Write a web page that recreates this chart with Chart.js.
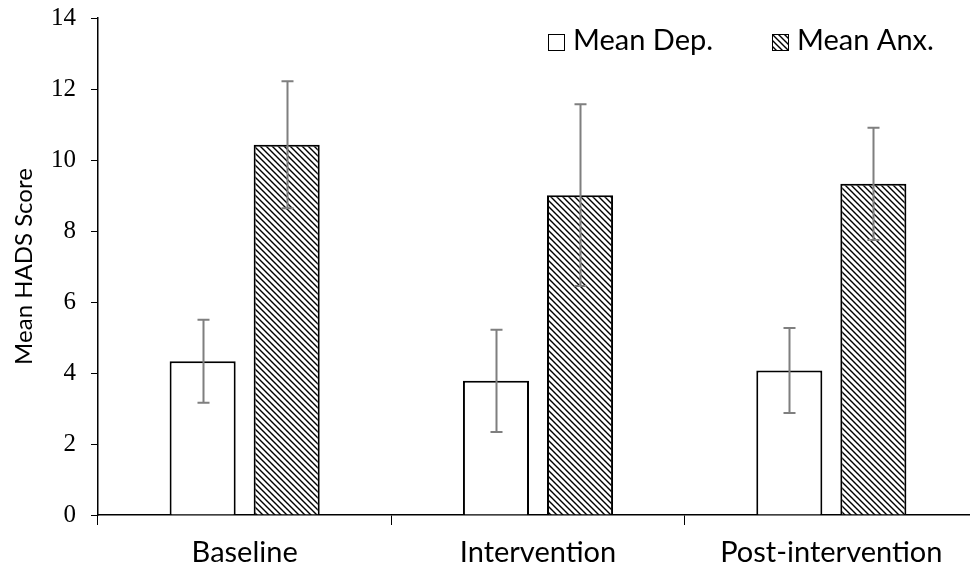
<!DOCTYPE html>
<html>
<head>
<meta charset="utf-8">
<script src="https://cdn.jsdelivr.net/npm/chart.js@4.4.1/dist/chart.umd.min.js"></script>
<style>
  html, body { margin: 0; padding: 0; background: #fff; overflow: hidden; }
  #wrap { width: 990px; height: 570px; }
</style>
</head>
<body>
<div id="wrap"><canvas id="plots" width="990" height="570"></canvas></div>
<script>
// data
const fases = ["Baseline", "Intervention", "Post-intervention"]
const mediaDep = [4.33, 3.78, 4.07]
const erroDep = [1.17, 1.44, 1.20]
const mediaAnx = [10.43, 9.01, 9.33]
const erroAnx = [1.79, 2.56, 1.58]
const ticksY = [0, 2, 4, 6, 8, 10, 12, 14]

function hachura(){
  const c = document.createElement('canvas')
  c.width = 6
  c.height = 6
  const g = c.getContext('2d')
  g.fillStyle = '#fff'
  g.fillRect(0, 0, 6, 6)
  g.strokeStyle = '#000'
  g.lineWidth = 1.4
  g.beginPath()
  g.moveTo(-1, -1); g.lineTo(7, 7)
  g.moveTo(-4, 2); g.lineTo(4, 10)
  g.moveTo(2, -4); g.lineTo(10, 4)
  g.stroke()
  return g.createPattern(c, 'repeat')
}

const barrasErro = {
  id: 'barrasErro',
  afterDatasetsDraw(chart){
    const ctx = chart.ctx
    const y = chart.scales.y
    ctx.save()
    ctx.strokeStyle = '#7f7f7f'
    ctx.lineWidth = 2
    chart.data.datasets.forEach((ds, i) => {
      const meta = chart.getDatasetMeta(i)
      meta.data.forEach((bar, j) => {
        const topo = y.getPixelForValue(ds.data[j] + ds.erro[j])
        const base = y.getPixelForValue(ds.data[j] - ds.erro[j])
        const x = Math.round(bar.x) + 0.5
        ctx.beginPath()
        ctx.moveTo(x, topo); ctx.lineTo(x, base)
        ctx.moveTo(x - 6, topo); ctx.lineTo(x + 6, topo)
        ctx.moveTo(x - 6, base); ctx.lineTo(x + 6, base)
        ctx.stroke()
      })
    })
    ctx.restore()
  }
}

// legenda dentro da area do grafico, no canto superior direito
const legendaDentro = {
  id: 'legendaDentro',
  afterDraw(chart){
    const ctx = chart.ctx
    const posX = [548, 772]
    const meioY = 42
    ctx.save()
    ctx.font = '29px Lato'
    ctx.textBaseline = 'middle'
    chart.data.datasets.forEach((ds, i) => {
      const x = posX[i]
      ctx.fillStyle = ds.backgroundColor
      ctx.fillRect(x, meioY - 8, 17, 17)
      ctx.strokeStyle = '#000'
      ctx.lineWidth = 1
      ctx.strokeRect(x + 0.5, meioY - 7.5, 16, 16)
      ctx.fillStyle = '#000'
      ctx.fillText(ds.label, x + 25, meioY - 1)
    })
    ctx.restore()
  }
}

const plots = document.getElementById('plots')
const grafico = new Chart(plots, {
  type: 'bar',
  data: {
    labels: fases,
    datasets: [{
      label: 'Mean Dep.',
      data: mediaDep,
      erro: erroDep,
      backgroundColor: '#fff',
      borderColor: '#000',
      borderWidth: 2,
      barPercentage: 0.786,
      categoryPercentage: 0.573
    }, {
      label: 'Mean Anx.',
      data: mediaAnx,
      erro: erroAnx,
      backgroundColor: hachura(),
      borderColor: '#000',
      borderWidth: 2,
      barPercentage: 0.786,
      categoryPercentage: 0.573
    }]
  },
  options: {
    responsive: false,
    animation: false,
    layout: { padding: { top: 18, right: 12, left: 10, bottom: 0 } },
    plugins: {
      tooltip: { enabled: false },
      legend: { display: false }
    },
    scales: {
      x: {
        grid: { display: true, offset: true, drawOnChartArea: false, drawTicks: true, tickLength: 10, color: '#000' },
        border: { display: true, color: '#000', width: 1.5 },
        ticks: { color: '#000', font: { family: 'Lato', size: 29 }, padding: 10 },
        afterFit(s){ s.height = 55; s.paddingLeft = 0; s.paddingRight = 0 }
      },
      y: {
        min: 0,
        max: 14,
        afterBuildTicks(s){ s.ticks = ticksY.map(v => ({ value: v })) },
        grid: { display: true, drawOnChartArea: false, drawTicks: true, tickLength: 7, color: '#000' },
        border: { display: true, color: '#000', width: 1.5 },
        ticks: { color: '#000', font: { family: 'Liberation Serif', size: 25 }, padding: 15 },
        title: { display: true, text: 'Mean HADS Score', color: '#000', font: { family: 'Lato', size: 24 }, padding: 0 },
        afterFit(s){ s.width = 88; s.paddingTop = 0; s.paddingBottom = 0 }
      }
    }
  },
  plugins: [barrasErro, legendaDentro]
})
</script>
</body>
</html>
